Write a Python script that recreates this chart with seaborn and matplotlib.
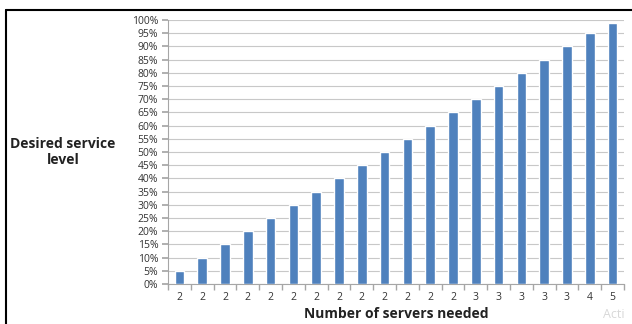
import matplotlib
matplotlib.use("Agg")
import matplotlib.pyplot as plt
import seaborn as sns
import pandas as pd
from matplotlib.lines import Line2D
from matplotlib.ticker import MultipleLocator, PercentFormatter

service_levels = [5, 10, 15, 20, 25, 30, 35, 40, 45, 50, 55, 60, 65, 70, 75, 80, 85, 90, 95, 99]
servers_needed = [2, 2, 2, 2, 2, 2, 2, 2, 2, 2, 2, 2, 2, 3, 3, 3, 3, 3, 4, 5]

df = pd.DataFrame({"idx": range(len(service_levels)), "level": service_levels,
                   "servers": servers_needed})

sns.set_theme(style="white")
plt.rcParams["font.family"] = ["Open Sans", "DejaVu Sans"]

fig = plt.figure(figsize=(6.32, 3.24), dpi=100)
ax = fig.add_axes([168/632, 1-284/324, 456/632, 264/324])

sns.barplot(data=df, x="idx", y="level", color="#4F81BD", width=0.42,
            saturation=1, ax=ax, zorder=3)

ax.set_ylim(0, 100)
ax.yaxis.set_major_locator(MultipleLocator(5))
ax.yaxis.set_major_formatter(PercentFormatter(decimals=0))
ax.set_xlim(-0.5, len(service_levels) - 0.5)
ax.set_xticks(range(len(servers_needed)))
ax.set_xticklabels([str(s) for s in servers_needed])
ax.set_xticks([i - 0.5 for i in range(len(servers_needed) + 1)], minor=True)

ax.grid(axis="y", color="#C8C8C8", linewidth=0.8, zorder=0)
for s in ["top", "right"]:
    ax.spines[s].set_visible(False)
ax.spines["left"].set_color("#A6A6A6")
ax.spines["bottom"].set_color("#A6A6A6")
ax.spines["left"].set_linewidth(0.8)
ax.spines["bottom"].set_linewidth(0.8)

ax.tick_params(axis="y", which="major", length=4, color="#A6A6A6", labelsize=7.5,
               labelcolor="#333333", pad=3, left=True)
ax.tick_params(axis="x", which="major", length=0, labelsize=7.5, labelcolor="#333333", pad=6)
ax.tick_params(axis="x", which="minor", length=4, color="#A6A6A6", bottom=True, direction="out")

ax.set_xlabel("Number of servers needed", fontsize=10, fontweight="bold", color="#222222", labelpad=3)
ax.set_ylabel("")
fig.text(63/632, 1-152/324, "Desired service\nlevel", ha="center", va="center",
         fontsize=10, fontweight="bold", color="#222222", linespacing=1.25)

# outer frame (top and left)
fig.add_artist(Line2D([6/632, 1], [1-10/324, 1-10/324], color="black", linewidth=1.5))
fig.add_artist(Line2D([6/632, 6/632], [0, 1-10/324], color="black", linewidth=1.5))

fig.text(603/632, 1-314/324, "Acti", fontsize=9, color="#D8D8D8", va="center", ha="left")

fig.savefig("out.png", dpi=100)
